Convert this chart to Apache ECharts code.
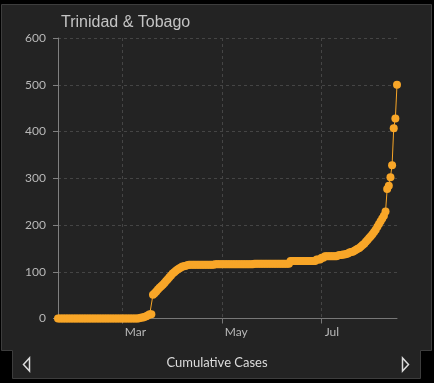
<!DOCTYPE html>
<html>
<head>
<meta charset="utf-8">
<script src="https://cdn.jsdelivr.net/npm/echarts@6/dist/echarts.min.js"></script>
<style>
html,body{margin:0;padding:0;background:#000;}
#c{width:434px;height:383px;}
</style>
</head>
<body>
<div id="c"></div>
<script>
// Data: daily cumulative cases, first day 2020-01-22
const startDate = [2020, 0, 22];
const janValues = [0,0,0,0,0,0,0,0,0,0];
const febValues = [0,0,0,0,0,0,0,0,0,0,0,0,0,0,0,0,0,0,0,0,0,0,0,0,0,0,0,0,0];
const marValues = [0,0,0,0,0,0,0,0,0,0,0,1,2,2,4,5,7,9,9,51,54,58,62,66,69,72,76,80,84,88,92];
const aprValues = [96,99,102,105,107,109,111,112,113,114,115,115,115,115,115,115,115,115,115,115,115,115,115,115,115,115,116,116,116,116];
const mayValues = [116,116,116,116,116,116,116,116,116,116,116,116,116,116,116,116,116,116,116,116,117,117,117,117,117,117,117,117,117,117,117];
const junValues = [117,117,117,117,117,117,117,117,117,117,117,123,123,123,123,123,123,123,123,123,123,123,123,123,123,123,123,126,126,126];
const julValues = [130,130,133,133,133,133,133,133,133,133,135,136,136,137,137,138,139,141,142,143,145,147,149,151,154,157,160,164,168,172,176];
const augValues = [180,185,190,196,202,208,214,220,229,277,284,302,328,407,428,500];

const monthTicks = [[2020,2,1],[2020,4,1],[2020,6,1]];
const monthNames = ['Jan','Feb','Mar','Apr','May','Jun','Jul','Aug','Sep','Oct','Nov','Dec'];
const yTicks = {min: 0, max: 600, interval: 100};
const titleText = 'Trinidad & Tobago';
const footerText = 'Cumulative Cases';

const allValues = [].concat(janValues, febValues, marValues, aprValues, mayValues, junValues, julValues, augValues);
const seriesData = allValues.map((v, i) => [new Date(startDate[0], startDate[1], startDate[2] + i).getTime(), v]);
const tickValues = monthTicks.map(d => new Date(d[0], d[1], d[2]).getTime());

const chart = echarts.init(document.getElementById('c'), null, {renderer: 'canvas'});
chart.setOption({
  backgroundColor: '#000',
  animation: false,
  graphic: [
    {
      type: 'polygon', z: -10, silent: true,
      shape: {points: [[1.5,4.5],[431.5,4.5],[431.5,350.5],[420.5,350.5],[420.5,378.5],[12.5,378.5],[12.5,350.5],[1.5,350.5]]},
      style: {fill: '#232323', stroke: '#3d3d3d', lineWidth: 1}
    },
    {
      type: 'text', left: 'center', top: 356,
      style: {text: footerText, fill: '#dcdcdc', font: '13px Lato', textAlign: 'center'}
    },
    {
      type: 'polygon', silent: true,
      shape: {points: [[23.5,364.5],[29.5,358],[29.5,371]]},
      style: {fill: 'none', stroke: '#dcdcdc', lineWidth: 1.5}
    },
    {
      type: 'polygon', silent: true,
      shape: {points: [[408.5,364.5],[402.5,358],[402.5,371]]},
      style: {fill: 'none', stroke: '#dcdcdc', lineWidth: 1.5}
    }
  ],
  title: {
    text: titleText, left: 56, top: 10,
    textStyle: {color: '#c4c4c4', fontSize: 16, fontWeight: 'normal', fontFamily: 'Liberation Sans'}
  },
  grid: {left: 58, right: 37, top: 38, bottom: 64.5},
  xAxis: {
    type: 'value',
    min: seriesData[0][0],
    max: seriesData[seriesData.length - 1][0],
    axisLine: {show: true, lineStyle: {color: '#777', width: 1}},
    axisTick: {show: true, length: 5, customValues: tickValues, lineStyle: {color: '#777'}},
    axisLabel: {
      customValues: tickValues,
      color: '#b8b8b8', fontSize: 12, fontFamily: 'Lato', align: 'left', padding: [0,0,0,3], margin: 8,
      formatter: function (v) { return monthNames[new Date(v).getMonth()]; }
    },
    splitLine: {show: true, lineStyle: {color: '#454545', type: [3, 3]}}
  },
  yAxis: {
    type: 'value',
    min: yTicks.min, max: yTicks.max, interval: yTicks.interval,
    axisLine: {show: true, lineStyle: {color: '#808080', width: 1}},
    axisTick: {show: true, length: 5, lineStyle: {color: '#808080'}},
    axisLabel: {color: '#b8b8b8', fontSize: 12, fontFamily: 'Lato', margin: 12},
    splitLine: {show: true, lineStyle: {color: '#454545', type: [3, 3]}}
  },
  series: [{
    type: 'line',
    data: seriesData,
    symbol: 'circle',
    symbolSize: 8,
    showSymbol: true,
    showAllSymbol: true,
    itemStyle: {color: '#f8a628'},
    lineStyle: {color: '#f8a628', width: 1},
    z: 5
  }]
});
</script>
</body>
</html>
